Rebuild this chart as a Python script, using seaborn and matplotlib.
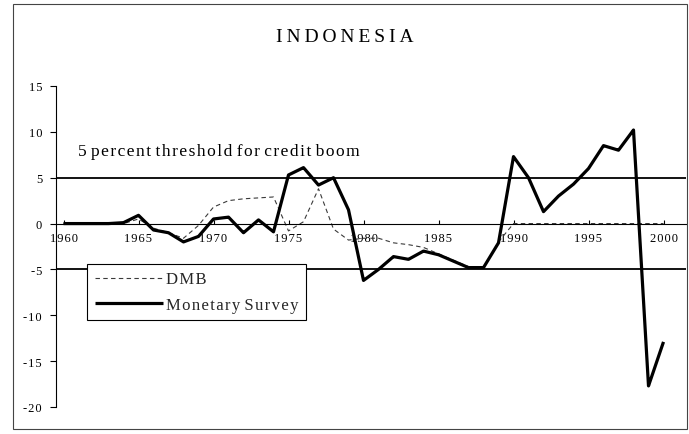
import numpy as np
import pandas as pd
import matplotlib
matplotlib.use("Agg")
import matplotlib.pyplot as plt
from matplotlib.lines import Line2D
from matplotlib.patches import Rectangle
import seaborn as sns

# ---------------- data ----------------
years = list(range(1960, 2001))
monetary_survey = [0.0, 0.0, 0.0, 0.0, 0.1, 0.9, -0.7, -1.0, -2.0, -1.4,
                   0.5, 0.7, -1.0, 0.4, -0.9, 5.3, 6.1, 4.2, 5.0, 1.5,
                   -6.2, -5.0, -3.6, -3.9, -3.0, -3.4, -4.1, -4.8, -4.8, -2.1,
                   7.3, 5.0, 1.3, 3.0, 4.3, 6.0, 8.5, 8.0, 10.2, -17.7,
                   -12.9]
dmb = [0.0, 0.0, 0.0, 0.0, 0.0, 0.5, -0.5, -1.0, -1.6, -0.2,
       1.8, 2.5, 2.7, 2.8, 2.9, -0.8, 0.2, 3.8, -0.6, -1.8,
       -1.6, -1.6, -2.1, -2.3, -2.6, -3.3, -4.0, -4.7, -4.8, -2.0,
       0.0, 0.0, 0.0, 0.0, 0.0, 0.0, 0.0, 0.0, 0.0, 0.0,
       0.0]
series_names = ["DMB", "Monetary Survey"]
x_ticks = list(range(1960, 2001, 5))
y_ticks = list(range(-20, 16, 5))
threshold = 5
title = "INDONESIA"
note = "5 percent threshold for credit boom"

HAIR = "\u200a"
THIN = "\u2009"


def track(s, sp=HAIR):
    return sp.join(s)


df = pd.DataFrame({
    "year": years * 2,
    "value": dmb + monetary_survey,
    "series": [series_names[0]] * len(years) + [series_names[1]] * len(years),
})

sns.set_theme(style="white")
plt.rcParams["font.family"] = ["Liberation Serif", "DejaVu Serif"]
plt.rcParams["axes.unicode_minus"] = False

fig = plt.figure(figsize=(6.89, 4.35), dpi=100)
W, H = 689, 435
ax = fig.add_axes([56 / W, 27 / H, 630 / W, 321 / H])
ax.set_facecolor("white")

palette = {series_names[0]: "#3a3a3a", series_names[1]: "black"}
dashes = {series_names[0]: (4, 3), series_names[1]: (1, 0)}
sizes = {series_names[0]: 0.8, series_names[1]: 2.3}

sns.lineplot(data=df, x="year", y="value", hue="series", style="series",
             size="series", palette=palette, dashes=dashes, sizes=sizes,
             ax=ax, legend=False)

ax.axhline(threshold, color="black", lw=1.3, zorder=1)
ax.axhline(-threshold, color="black", lw=1.3, zorder=1)

ax.set_xlim(1959.5, 2001.5)
ax.set_ylim(-20, 15)
ax.set_xticks(x_ticks)
ax.set_xticklabels([track(str(t)) for t in x_ticks])
ax.set_yticks(y_ticks)
ax.set_yticklabels([track(str(t)) for t in y_ticks])
ax.set_xlabel("")
ax.set_ylabel("")
ax.grid(False)

for s in ["top", "right"]:
    ax.spines[s].set_visible(False)
ax.spines["bottom"].set_position(("data", 0))
ax.spines["bottom"].set_color("black")
ax.spines["bottom"].set_linewidth(0.8)
ax.spines["left"].set_color("black")
ax.spines["left"].set_linewidth(0.8)

ax.tick_params(axis="x", direction="in", length=3, width=0.8, pad=6,
               labelsize=9, colors="black", bottom=True)
ax.tick_params(axis="y", direction="out", length=4, width=0.8, pad=6,
               labelsize=9, colors="black", left=True)

ax.text(0.035, 0.797, " ".join(track(w) for w in note.split(" ")),
        transform=ax.transAxes, fontsize=12.5, va="center", ha="left",
        color="black")

fig.text(0.5, 1 - 38 / H, track(title, THIN), ha="center", va="center",
         fontsize=14, color="black")

handles = [Line2D([], [], color=palette[n], lw=sizes[n] * 1.0,
                  dashes=dashes[n]) for n in series_names]
leg = ax.legend(handles, [" ".join(track(w) for w in n.split(" ")) for n in series_names],
                loc="upper left", bbox_to_anchor=(87 / W, 1 - 265 / H),
                bbox_transform=fig.transFigure, frameon=True, fancybox=False,
                edgecolor="black", framealpha=1, fontsize=12,
                handlelength=4.1, handletextpad=0.2, labelspacing=0.55,
                borderpad=0.45, borderaxespad=0)
leg.get_frame().set_linewidth(0.8)

fig.patches.append(Rectangle((13 / W, 1 - 430 / H), (687 - 13) / W,
                             (430 - 5) / H, transform=fig.transFigure,
                             fill=False, edgecolor="#444444", lw=0.8))

fig.savefig("out.png", dpi=100, facecolor="white")
